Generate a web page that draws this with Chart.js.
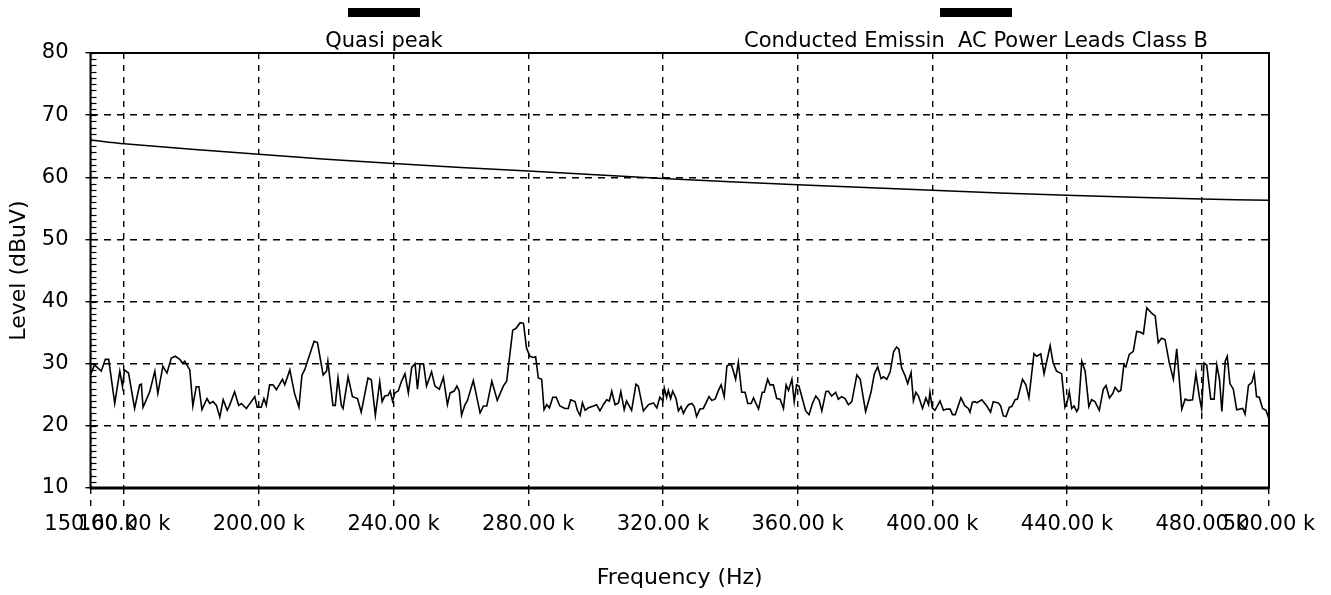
<!DOCTYPE html>
<html>
<head>
<meta charset="utf-8">
<title>Conducted Emission</title>
<script src="https://cdn.jsdelivr.net/npm/chart.js@4.4.0/dist/chart.umd.min.js"></script>
<style>
  html, body { margin: 0; padding: 0; background: #fff; }
  #wrap { width: 1331px; height: 595px; position: relative; }
</style>
</head>
<body>
<div id="wrap"><canvas id="myChart"></canvas></div>
<script>
// tick values (kHz / dBuV)
const xTicks = [150, 160, 200, 240, 280, 320, 360, 400, 440, 480, 500];
const yTicks = [10, 20, 30, 40, 50, 60, 70, 80];

// Class B limit line
const limitFreqs = [150, 160, 200, 240, 280, 320, 360, 400, 440, 480, 500];
const limitLevels = [66.0, 65.4, 63.7, 62.2, 61.0, 59.8, 58.8, 57.9, 57.1, 56.5, 56.3];

// quasi peak trace (kHz)
const qpFreqs = [
  150.0, 151.2, 153.2, 154.4, 155.4, 157.2, 158.7, 159.5, 160.1, 161.3, 163.1, 164.6, 165.1, 165.6,
  167.6, 169.1, 170.0, 171.5, 172.7, 174.0, 175.2, 176.5, 177.3, 178.0, 179.5, 180.4, 181.4, 182.2,
  183.1, 184.6, 185.4, 186.4, 187.4, 188.4, 189.4, 190.6, 191.3, 192.8, 194.0, 194.8, 196.3, 198.8,
  199.5, 200.7, 201.5, 202.2, 203.2, 204.2, 205.2, 207.0, 207.7, 209.2, 210.6, 211.9, 212.8, 213.6,
  216.4, 217.4, 219.1, 220.1, 220.5, 222.0, 222.7, 223.5, 224.5, 225.0, 226.5, 227.8, 229.3, 230.4,
  232.4, 233.4, 234.6, 235.9, 236.6, 237.4, 238.4,
  239.0, 239.7, 240.4, 241.4, 242.4, 243.4, 244.4, 245.4, 246.4, 247.1, 247.9, 248.9, 249.8, 251.3,
  252.3, 253.6, 254.8, 256.0, 256.8, 258.0, 258.8, 259.5, 260.2, 261.2, 261.9, 263.7, 265.7, 266.7,
  267.7, 269.2, 270.8, 272.6, 273.6, 275.4, 276.4, 277.6, 278.6, 279.5, 280.5, 281.5, 282.2, 283.0,
  284.0, 284.7, 285.5, 286.3, 287.3, 288.3, 289.4, 290.9, 291.9, 292.6, 293.9, 294.6, 295.4, 296.1,
  296.9, 297.9, 299.4, 300.3, 301.3, 302.3, 303.3, 304.1, 304.8, 305.8, 306.8, 307.5, 308.5, 309.2,
  310.7, 312.0, 312.7, 314.2, 315.7, 317.2, 318.2, 319.1, 320.0, 320.4, 321.1, 321.6, 322.3, 322.9,
  323.9, 324.6,
  325.4, 326.1, 326.8, 327.6, 328.6, 329.3, 330.0, 331.0, 332.0, 333.7, 334.5, 335.5, 336.5, 337.3,
  338.2, 339.0, 339.4, 340.4, 341.6, 342.4, 343.4, 344.4, 345.2, 346.2, 346.9, 348.4, 349.5, 350.1,
  351.1, 351.8, 352.8, 353.8, 354.8, 355.8, 356.6, 357.3, 358.3, 359.0, 359.7, 360.4, 361.2, 362.4,
  363.4, 364.4, 365.4, 366.4, 367.2, 368.4, 369.1, 370.1, 371.3, 372.1, 373.1, 374.1, 375.1, 376.1,
  377.6, 378.6, 380.2, 381.8, 382.8, 383.8, 384.8, 385.5, 386.5, 387.5, 388.5, 389.4, 390.1, 390.9,
  391.9, 392.7, 393.7, 394.4, 395.1, 395.9, 397.1, 398.1, 398.9, 399.3, 400.0, 400.8, 402.3, 403.3,
  404.3, 405.3, 406.0, 406.8, 408.5, 409.7, 410.7, 411.2, 411.9, 412.7,
  413.2, 414.7, 416.2, 417.3, 418.1, 419.6, 420.3, 421.1, 421.9, 422.9, 423.6, 424.6, 425.3, 426.8,
  427.8, 428.7, 430.2, 431.0, 432.2, 433.2, 435.0, 435.9, 436.9, 438.4, 439.4, 440.1, 440.7, 441.4,
  442.1, 442.9, 443.4, 444.4, 445.4, 446.5, 447.3, 448.3, 449.6, 450.8, 451.6, 452.6, 453.6, 454.3,
  455.3, 456.0, 456.9, 457.5, 458.5, 459.7, 460.7, 461.7, 462.7, 463.7, 465.2, 466.2, 467.1, 468.1,
  469.1, 470.4, 471.6, 472.6, 474.1, 475.1, 476.1, 477.3, 478.3, 479.3, 480.0, 480.7, 481.5, 482.7,
  483.7, 484.5, 485.3, 486.0, 487.0, 487.6, 488.4, 489.4, 490.4, 492.2, 492.9, 493.9, 494.9, 495.6,
  496.3, 497.1, 498.1, 499.1, 500.0
];
// quasi peak trace (dBuV)
const qpLevels = [
  28.2, 29.8, 28.8, 30.7, 30.7, 23.6, 28.8, 26.3, 29.0, 28.5, 22.8, 26.6, 26.7, 23.0,
  25.5, 28.8, 25.2, 29.6, 28.5, 30.9, 31.2, 30.7, 30.1, 30.4, 29.0, 23.2, 26.3, 26.3,
  22.6, 24.4, 23.6, 23.9, 23.3, 21.4, 24.2, 22.5, 23.3, 25.5, 23.3, 23.6, 22.8, 24.7,
  23.0, 23.0, 24.4, 23.3, 26.6, 26.6, 25.8, 27.5, 26.6, 29.0, 25.2, 23.0, 28.2, 29.0,
  33.6, 33.4, 28.2, 28.8, 30.4, 23.3, 23.3, 27.7, 23.3, 22.8, 27.9, 24.7, 24.4, 22.2,
  27.7, 27.4, 21.7, 27.1, 23.9, 24.8, 24.9,
  25.6, 24.0, 25.3, 25.6, 27.2, 28.4, 25.3, 29.4, 30.0, 25.9, 30.0, 30.0, 26.4, 28.7,
  26.4, 25.9, 27.8, 23.4, 25.3, 25.6, 26.4, 25.6, 21.7, 23.4, 24.0, 27.3, 22.1, 23.2,
  23.2, 27.2, 24.1, 26.4, 27.2, 35.4, 35.7, 36.6, 36.5, 32.5, 31.2, 31.0, 31.1, 27.7,
  27.5, 22.6, 23.4, 22.9, 24.6, 24.6, 23.2, 22.8, 22.8, 24.2, 23.9, 22.5, 21.7, 23.7,
  22.5, 22.9, 23.2, 23.4, 22.4, 23.4, 24.2, 24.0, 25.6, 23.4, 23.7, 25.5, 22.6, 24.0,
  22.5, 26.7, 26.4, 22.4, 23.4, 23.7, 22.9, 24.6, 24.0, 26.1, 24.6, 25.7, 24.4, 25.6,
  24.4, 22.4,
  23.1, 22.0, 22.8, 23.4, 23.6, 23.1, 21.5, 22.7, 22.8, 24.7, 24.1, 24.3, 25.7, 26.6,
  24.7, 29.6, 29.8, 29.8, 27.5, 30.2, 25.4, 25.4, 23.6, 23.6, 24.5, 22.7, 25.4, 25.4,
  27.5, 26.6, 26.6, 24.4, 24.3, 22.8, 26.6, 25.7, 27.5, 23.9, 26.6, 26.4, 24.8, 22.4,
  21.8, 23.6, 24.8, 24.1, 22.4, 25.5, 25.6, 24.8, 25.4, 24.3, 24.7, 24.4, 23.4, 23.9,
  28.2, 27.5, 22.3, 25.4, 28.4, 29.5, 27.6, 27.9, 27.5, 28.7, 31.9, 32.7, 32.3, 29.3,
  28.1, 26.8, 28.6, 24.0, 25.4, 24.8, 22.8, 24.5, 23.4, 25.4, 22.9, 22.5, 24.0, 22.5,
  22.7, 22.7, 21.8, 21.8, 24.5, 23.2, 22.8, 22.2, 23.8, 23.9,
  23.7, 24.2, 23.2, 22.2, 23.9, 23.7, 23.2, 21.6, 21.5, 23.0, 23.1, 24.2, 24.3, 27.5,
  26.6, 24.5, 31.6, 31.2, 31.6, 28.4, 32.9, 30.1, 28.8, 28.4, 23.0, 23.9, 25.5, 22.8,
  23.2, 22.3, 22.8, 30.4, 28.8, 23.1, 24.2, 23.9, 22.5, 25.9, 26.5, 24.5, 25.2, 26.2,
  25.5, 25.7, 29.8, 29.5, 31.5, 32.0, 35.2, 35.1, 34.8, 39.0, 38.1, 37.7, 33.4, 34.1,
  33.9, 30.1, 27.5, 32.4, 22.7, 24.3, 24.1, 24.2, 28.4, 24.7, 22.7, 30.1, 29.8, 24.3,
  24.3, 29.8, 27.5, 22.3, 30.4, 31.2, 26.8, 25.9, 22.6, 22.8, 21.9, 26.5, 27.0, 28.4,
  24.7, 24.6, 22.8, 22.5, 21.1
];

Chart.defaults.font.family = "'DejaVu Sans', Verdana, sans-serif";
Chart.defaults.font.size = 21;
Chart.defaults.color = "#000";

// frame, minor y ticks and the legend bars above the plot
const framePlugin = {
  id: "frame",
  afterDraw(chart, args, opts) {
    const { ctx, chartArea: a, scales } = chart;
    ctx.save();
    ctx.strokeStyle = "#000";
    ctx.lineWidth = 1.2;
    for (let v = yTicks[0]; v <= yTicks[yTicks.length - 1]; v++) {
      const y = Math.round(scales.y.getPixelForValue(v)) + 0.5;
      ctx.beginPath();
      ctx.moveTo(a.left, y);
      ctx.lineTo(a.left + 6, y);
      ctx.stroke();
    }
    ctx.lineWidth = 2;
    ctx.strokeRect(a.left, a.top, a.right - a.left, a.bottom - a.top);
    ctx.lineWidth = 3;
    ctx.beginPath();
    ctx.moveTo(a.left, a.bottom);
    ctx.lineTo(a.right, a.bottom);
    ctx.stroke();

    // legend
    ctx.font = "21px 'DejaVu Sans'";
    ctx.textAlign = "center";
    ctx.textBaseline = "alphabetic";
    chart.data.datasets.forEach((ds, i) => {
      const cx = opts.centers[i];
      ctx.fillStyle = ds.borderColor;
      ctx.fillRect(cx - 36, 8, 72, 9);
      ctx.fillStyle = "#000";
      ctx.fillText(ds.label, cx, 47);
    });
    ctx.restore();
  },
};

const data = {
  datasets: [
    {
      label: "Quasi peak",
      data: qpFreqs.map((f, i) => ({ x: f, y: qpLevels[i] })),
      borderColor: "#000",
      borderWidth: 1.6,
      pointRadius: 0,
      tension: 0,
    },
    {
      label: "Conducted Emissin  AC Power Leads Class B",
      data: limitFreqs.map((f, i) => ({ x: f, y: limitLevels[i] })),
      borderColor: "#000",
      borderWidth: 1.5,
      pointRadius: 0,
      tension: 0.3,
    },
  ],
};

const config = {
  type: "line",
  data: data,
  plugins: [framePlugin],
  options: {
    responsive: true,
    maintainAspectRatio: false,
    animation: false,
    layout: { padding: { top: 53, right: 62, left: 0, bottom: 0 } },
    plugins: {
      legend: { display: false },
      tooltip: { enabled: false },
      frame: { centers: [384, 976] },
    },
    scales: {
      x: {
        type: "linear",
        min: xTicks[0],
        max: xTicks[xTicks.length - 1],
        afterBuildTicks: (scale) => {
          scale.ticks = xTicks.map((v) => ({ value: v }));
        },
        afterFit: (scale) => {
          scale.height = 107;
        },
        ticks: {
          autoSkip: false,
          maxRotation: 0,
          padding: 6,
          callback: (v) => v.toFixed(2) + " k",
        },
        grid: {
          color: "#000",
          lineWidth: 1.4,
          tickLength: 18,
          tickBorderDash: [6, 6],
        },
        border: { display: false, dash: [6, 6] },
        title: {
          display: true,
          text: "Frequency (Hz)",
          font: { size: 22 },
          padding: { top: 0, bottom: 4 },
        },
      },
      y: {
        min: yTicks[0],
        max: yTicks[yTicks.length - 1],
        afterBuildTicks: (scale) => {
          scale.ticks = yTicks.map((v) => ({ value: v }));
        },
        afterFit: (scale) => {
          scale.width = 90.5;
        },
        ticks: { padding: 17 },
        grid: {
          color: "#000",
          lineWidth: 1.4,
          tickLength: 5,
        },
        border: { display: false, dash: [7, 6] },
        title: {
          display: true,
          text: "Level (dBuV)",
          font: { size: 22 },
          padding: { top: 6, bottom: 0 },
        },
      },
    },
  },
};

const myChart = new Chart(document.getElementById("myChart"), config);
</script>
</body>
</html>
